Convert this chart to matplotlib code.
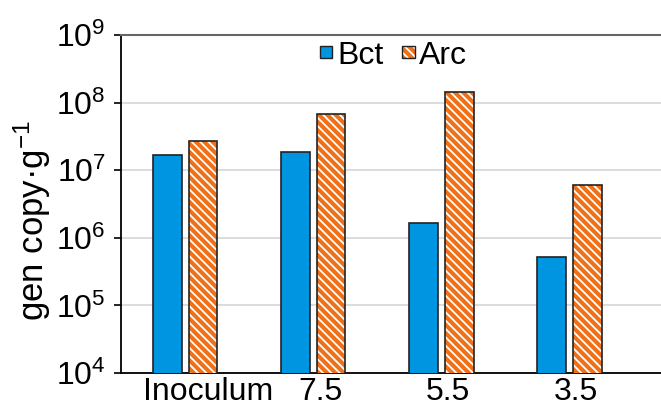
import matplotlib.pyplot as plt
from matplotlib.patches import Patch
from matplotlib.ticker import LogLocator, NullLocator
import numpy as np

plt.rcParams['font.family'] = ['Liberation Sans', 'DejaVu Sans']
plt.rcParams['mathtext.fontset'] = 'custom'
plt.rcParams['mathtext.rm'] = 'Liberation Sans'
plt.rcParams['mathtext.it'] = 'Liberation Sans'
plt.rcParams['hatch.linewidth'] = 1.3

categories = ['Inoculum', '7.5', '5.5', '3.5']
bct = [1.69e7, 1.87e7, 1.67e6, 5.3e5]
arc = [2.72e7, 6.8e7, 1.43e8, 6.1e6]

blue = '#0095e0'
orange = '#f07017'

fig = plt.figure(figsize=(6.61, 4.09), dpi=100)
ax = fig.add_axes([0.183, 0.088, 0.817, 0.826])

x = np.arange(len(categories))
w = 0.225
off = 0.14

ax.bar(x - off, bct, w, color=blue, edgecolor='#222222', linewidth=1.2, zorder=3)
ax.bar(x + off, arc, w, color=orange, edgecolor='white', hatch='\\\\\\\\', linewidth=0, zorder=3)
ax.bar(x + off, arc, w, fill=False, edgecolor='#222222', linewidth=1.2, zorder=4)

ax.set_yscale('log')
ax.set_ylim(1e4, 1e9)
ax.set_xlim(-0.5, 3.715)
ax.yaxis.set_major_locator(LogLocator(base=10, numticks=10))
ax.yaxis.set_minor_locator(NullLocator())
ax.grid(axis='y', color='#d9d9d9', linewidth=1.3, zorder=0)

ax.set_xticks(x + np.array([0.18, 0.06, 0.05, 0.05]))
ax.set_xticklabels(categories)
ax.tick_params(axis='x', length=0, labelsize=23, pad=3)
ax.tick_params(axis='y', direction='out', length=5, width=1.2, labelsize=23, pad=6)

ax.spines['right'].set_visible(False)
ax.spines['top'].set_color('#666666')
ax.spines['top'].set_linewidth(1.5)
ax.spines['left'].set_linewidth(1.3)
ax.spines['bottom'].set_linewidth(1.3)

ax.set_ylabel('gen copy·g$^{-1}$', fontsize=25)
ax.yaxis.set_label_coords(-0.125, 0.45)

h_bct = Patch(facecolor=blue, edgecolor='#222222', linewidth=1.0)
h_arc = (Patch(facecolor=orange, edgecolor='white', hatch='\\\\\\\\', linewidth=0),
         Patch(fill=False, edgecolor='#222222', linewidth=1.0))
ax.legend([h_bct, h_arc], ['Bct', 'Arc'], loc='upper center', bbox_to_anchor=(0.505, 1.04),
          ncol=2, frameon=False, fontsize=23, handlelength=0.38, handleheight=0.2,
          handletextpad=0.15, columnspacing=0.6, borderaxespad=0.2)

fig.savefig('out.png', dpi=100)
